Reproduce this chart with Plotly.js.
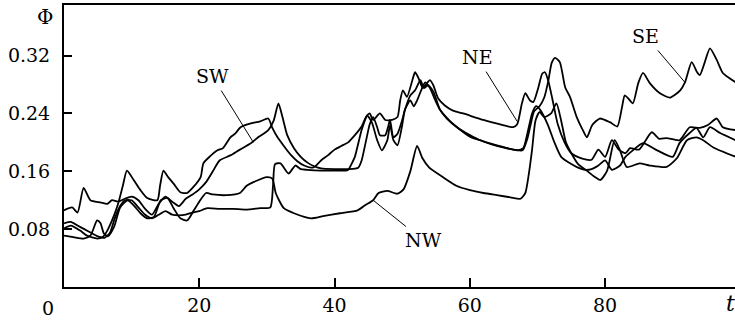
<!DOCTYPE html>
<html>
<head>
<meta charset="utf-8">
<script src="https://cdn.plot.ly/plotly-3.0.1.min.js"></script>
<style>
html,body{margin:0;padding:0;background:#fff}
#chart{width:735px;height:322px}
</style>
</head>
<body>
<div id="chart"></div>
<script>
// x tick labels
const xTicks = [20, 40, 60, 80];
const yTicks = [0.08, 0.16, 0.24, 0.32];
const yTickText = ["0.08", "0.16", "0.24", "0.32"];

// SE series
const seT = [0,1,2.4,3.4,4.9,5.7,6.4,7.4,8,8.7,9.3,10.3,11.3,12.3,13.8,14.2,14.7,15.4,16.2,17.2,18.2,19.1,20.2,20.6,21.5,22.7,23.5,24.6,25.3,26.1,27.5,29,30.2,30.8,31.5,32.5,33.5,34.5,35.5,36.5,37,38,39,40,41,42,43,44,44.8,45.5,46.3,47,47.8,48.2,48.7,49.3,50,50.4,51.2,51.7,52.2,52.8,53.4,54.1,54.9,55.6,57,58.1,60,61.5,63,64.9,66.5,67.8,68.5,69,69.5,70.3,71,71.6,72.1,72.6,73.3,74.1,74.8,75.8,76.7,77.3,78.1,79.2,80.7,81.8,82.5,82.9,83.4,84.1,84.9,85.6,86.6,88.1,89.6,91.1,91.8,92.8,93.6,94,94.7,95.5,96.5,97.4,98.5,99.3];
const seV = [0.081,0.085,0.078,0.071,0.067,0.069,0.078,0.099,0.115,0.14,0.161,0.148,0.134,0.123,0.12,0.14,0.161,0.152,0.143,0.131,0.13,0.138,0.152,0.171,0.18,0.189,0.192,0.207,0.212,0.221,0.226,0.229,0.233,0.22,0.208,0.195,0.183,0.174,0.168,0.165,0.166,0.175,0.182,0.19,0.195,0.2,0.21,0.222,0.237,0.228,0.203,0.189,0.203,0.224,0.203,0.196,0.224,0.245,0.258,0.25,0.258,0.272,0.283,0.275,0.258,0.245,0.23,0.221,0.208,0.203,0.198,0.193,0.19,0.189,0.205,0.225,0.243,0.25,0.262,0.285,0.31,0.317,0.311,0.276,0.263,0.235,0.217,0.207,0.224,0.233,0.228,0.222,0.249,0.265,0.261,0.254,0.282,0.296,0.282,0.268,0.262,0.272,0.283,0.311,0.297,0.293,0.31,0.33,0.314,0.296,0.288,0.283];

// SW series
const swT = [0,1.2,2,2.9,3.9,5.4,6.4,7.1,8,9,10,11,12,13,14,15,16,17,18,19,20,21,22,23,24.6,26,27.5,28.7,30.2,31,31.7,32.3,33,34,35,36,37,38,40,42,43.5,44,44.6,45.2,45.7,46.3,46.7,47.5,47.9,48.2,48.7,49.3,50,50.4,51.2,51.9,52.7,53.2,53.8,54.6,55.6,56.6,58.1,60,61.5,64,67,67.9,68.5,69.2,69.8,70.4,71.5,72.5,73.5,75,76,77,78,79,80,81,82.2,83,84.1,85.6,87.7,90,91,92.5,93.5,94.5,95.5,97,99.3];
const swV = [0.106,0.11,0.103,0.137,0.12,0.117,0.115,0.12,0.118,0.122,0.125,0.12,0.108,0.1,0.115,0.125,0.118,0.112,0.122,0.128,0.135,0.145,0.16,0.175,0.182,0.19,0.198,0.207,0.217,0.23,0.254,0.235,0.21,0.192,0.18,0.172,0.167,0.164,0.163,0.163,0.165,0.175,0.2,0.225,0.235,0.221,0.21,0.21,0.221,0.231,0.207,0.212,0.231,0.245,0.265,0.272,0.286,0.275,0.279,0.27,0.245,0.233,0.221,0.21,0.203,0.196,0.189,0.192,0.212,0.24,0.25,0.245,0.225,0.2,0.18,0.17,0.165,0.162,0.163,0.168,0.175,0.162,0.168,0.18,0.189,0.199,0.189,0.18,0.199,0.213,0.22,0.207,0.221,0.213,0.203];

// NE series
const neT = [0,1,2,3,4,5,6,6.8,7.5,8.3,9,10,11,12,13,14,15,16,17,18,19,20,21.2,23,25,27,29,30.5,30.9,31.2,32,33.2,34.2,35,36,38,40,42,42.5,43,44,44.8,45.2,45.7,46.7,47.5,48.5,49.3,49.7,50.1,50.7,51.5,51.9,52.4,53,53.4,54.1,54.6,55.3,56.3,57.5,59,62,64.9,66.4,67,67.7,68.2,68.9,69.4,70.1,70.7,71.1,71.6,72.2,73,74,75,76.5,78,79,80,81,82,83,83.7,85,86.9,88,89.1,91,92.5,94,95.2,96.5,97.4,99.3];
const neV = [0.088,0.09,0.085,0.08,0.075,0.07,0.068,0.075,0.095,0.112,0.12,0.12,0.11,0.1,0.095,0.1,0.105,0.1,0.099,0.1,0.103,0.105,0.109,0.108,0.108,0.107,0.109,0.11,0.14,0.17,0.171,0.157,0.168,0.163,0.162,0.161,0.161,0.162,0.17,0.18,0.217,0.237,0.24,0.231,0.24,0.231,0.231,0.235,0.258,0.272,0.263,0.286,0.297,0.289,0.276,0.279,0.286,0.279,0.261,0.251,0.244,0.24,0.231,0.224,0.221,0.225,0.254,0.268,0.258,0.256,0.275,0.295,0.297,0.285,0.26,0.225,0.2,0.185,0.178,0.176,0.19,0.18,0.203,0.19,0.185,0.192,0.19,0.214,0.205,0.206,0.203,0.221,0.22,0.224,0.233,0.221,0.217];

// NW series
const nwT = [0,1.4,2.9,3.9,4.9,5.4,5.9,6.5,7.4,8.3,9.4,10.3,11.3,12.3,13.3,14.3,15.3,16.2,17.2,18.2,19.2,20,21,22,24,26,27,28,30,30.8,31.3,32.5,34,36.5,38.3,40.8,43.4,44.5,45.7,46.5,47.8,49.3,50.2,51.2,52.2,53,54,56,58,60,62,64,66,67.5,68.2,68.7,69.2,69.7,70.3,71,72,72.8,73.5,74.2,75,76,77,78.5,79.3,80.3,81.4,82.2,83.2,85.1,86.6,89.1,90.6,92.1,93.5,94.5,96,99.3];
const nwV = [0.071,0.069,0.067,0.071,0.092,0.088,0.074,0.07,0.083,0.11,0.12,0.113,0.102,0.095,0.097,0.12,0.123,0.109,0.095,0.092,0.106,0.118,0.13,0.128,0.127,0.13,0.14,0.145,0.152,0.15,0.13,0.109,0.102,0.095,0.098,0.102,0.106,0.113,0.12,0.13,0.133,0.129,0.135,0.16,0.195,0.178,0.165,0.152,0.14,0.134,0.13,0.127,0.124,0.122,0.13,0.155,0.19,0.23,0.242,0.235,0.24,0.254,0.23,0.2,0.185,0.17,0.163,0.152,0.148,0.161,0.203,0.189,0.166,0.171,0.168,0.166,0.178,0.203,0.207,0.203,0.193,0.18];

const seriesNames = ["SE", "SW", "NE", "NW"];
const serif = "DejaVu Serif";
const lineStyle = {color: "#000", width: 1.8, shape: "spline", smoothing: 0.6};

const traces = [
  {x: seT, y: seV, name: seriesNames[0]},
  {x: swT, y: swV, name: seriesNames[1]},
  {x: neT, y: neV, name: seriesNames[2]},
  {x: nwT, y: nwV, name: seriesNames[3]}
].map(s => Object.assign(s, {type: "scatter", mode: "lines", line: lineStyle, hoverinfo: "skip"}));

const labelFont = {family: serif, size: 19, color: "#000"};
function lbl(text, x, y, ax, ay) {
  return {text: text, x: x, y: y, xref: "x", yref: "y", ax: ax, ay: ay,
    showarrow: true, arrowhead: 0, arrowwidth: 1, arrowcolor: "#000",
    font: labelFont, standoff: 0, startstandoff: 2};
}

const layout = {
  width: 735, height: 322,
  margin: {l: 64, r: 0, t: 5, b: 35, pad: 0},
  paper_bgcolor: "#fff", plot_bgcolor: "#fff",
  showlegend: false,
  font: {family: serif, size: 19, color: "#000"},
  xaxis: {
    range: [0, 99.2], tickvals: xTicks, ticktext: xTicks.map(String),
    ticks: "inside", ticklen: 9, tickwidth: 2, tickcolor: "#000",
    showline: true, linewidth: 2, linecolor: "#000", mirror: true,
    showgrid: false, zeroline: false, tickfont: {family: serif, size: 19, color: "#000"}
  },
  yaxis: {
    range: [0, 0.39], tickvals: yTicks, ticktext: yTickText,
    ticks: "inside", ticklen: 8, tickwidth: 2, tickcolor: "#000",
    showline: true, linewidth: 2, linecolor: "#000",
    showgrid: false, zeroline: false, ticklabelstandoff: 8,
    tickfont: {family: serif, size: 19, color: "#000"}
  },
  annotations: [
    lbl(seriesNames[1], 28.0, 0.2, -41, -66),
    lbl(seriesNames[2], 67.0, 0.229, -40, -64),
    lbl(seriesNames[0], 91.8, 0.283, -39, -46),
    lbl(seriesNames[3], 45.7, 0.12, 50, 40),
    {text: "0", xref: "paper", yref: "paper", x: 0, y: 0, xanchor: "center", yanchor: "top",
     xshift: -16, yshift: -8, showarrow: false, font: {family: serif, size: 19, color: "#000"}},
    {text: "Φ", xref: "paper", yref: "paper", x: 0, y: 1, xanchor: "center", yanchor: "middle",
     xshift: -19, yshift: -12, showarrow: false, font: {family: serif, size: 20, color: "#000"}},
    {text: "<i>t</i>", xref: "paper", yref: "paper", x: 1, y: 0, xanchor: "left", yanchor: "top",
     xshift: -11, yshift: -2, showarrow: false, font: {family: serif, size: 22, color: "#000"}}
  ]
};

Plotly.newPlot("chart", traces, layout, {displayModeBar: false, staticPlot: true});
</script>
</body>
</html>
